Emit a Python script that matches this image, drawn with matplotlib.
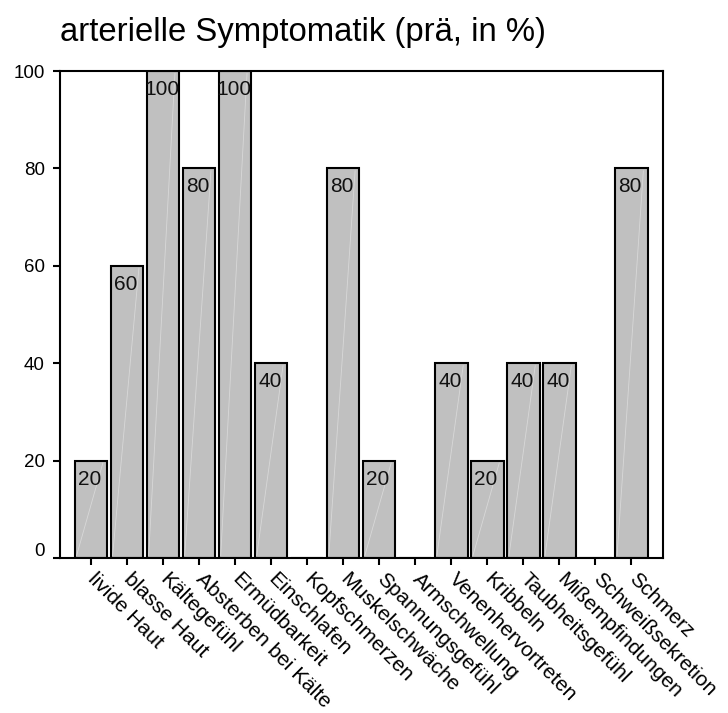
import matplotlib
matplotlib.use("Agg")
import matplotlib.pyplot as plt
import matplotlib.transforms as mtransforms

plt.rcParams['font.family'] = ['Liberation Sans', 'DejaVu Sans']

categories = ["livide Haut", "blasse Haut", "Kältegefühl", "Absterben bei Kälte",
              "Ermüdbarkeit", "Einschlafen", "Kopfschmerzen", "Muskelschwäche",
              "Spannungsgefühl", "Armschwellung", "Venenhervortreten", "Kribbeln",
              "Taubheitsgefühl", "Mißempfindungen", "Schweißsekretion", "Schmerz"]
values = [20, 60, 100, 80, 100, 40, 0, 80, 20, 0, 40, 20, 40, 40, 0, 80]
yticks = [0, 20, 40, 60, 80, 100]
title = "arterielle Symptomatik (prä, in %)"

fig = plt.figure(figsize=(7.28, 7.13), dpi=100)
ax = fig.add_axes([60/728, 1-558/713, (663-60)/728, (558-71)/713])

x = list(range(len(categories)))
w = 0.9
ax.bar(x, values, width=w, color='#c0c0c0', edgecolor='black', linewidth=1.5, zorder=2)

# faint diagonal sheen inside each bar
for xi, v in zip(x, values):
    if v > 0:
        ax.plot([xi - w/2 + 0.05, xi + w/2 - 0.12], [0.5, v - 0.5], color='#d8d8d8',
                lw=0.6, zorder=2.5)

for xi, v in zip(x, values):
    if v > 0:
        ax.annotate(str(v), (xi, v), xytext=(-1, -6.5), textcoords='offset points',
                    ha='center', va='top', fontsize=15, color='#111111', zorder=3)

ax.set_xlim(-0.86, 15.875)
ax.set_ylim(0, 100)
ax.set_yticks(yticks)
ax.set_yticklabels([str(t) for t in yticks], fontsize=13.5)
ax.set_xticks(x)
ax.set_xticklabels(categories, rotation=-45, ha='left', va='top',
                   rotation_mode='anchor', fontsize=15)
ax.tick_params(axis='both', direction='out', length=5, width=1.5, pad=6)
ax.tick_params(axis='x', pad=3)
for s in ax.spines.values():
    s.set_linewidth(1.5)

shift = mtransforms.ScaledTranslation(7/100, 0, fig.dpi_scale_trans)
for lbl in ax.get_xticklabels():
    lbl.set_transform(lbl.get_transform() + shift)

# raise the "0" label slightly as in the reference
lbl0 = ax.get_yticklabels()[0]
lbl0.set_transform(lbl0.get_transform() + mtransforms.ScaledTranslation(0, 9/100, fig.dpi_scale_trans))

fig.text(60/728, 1-41/713, title, fontsize=23.7, ha='left', va='baseline')

fig.savefig("out.png", dpi=100)
